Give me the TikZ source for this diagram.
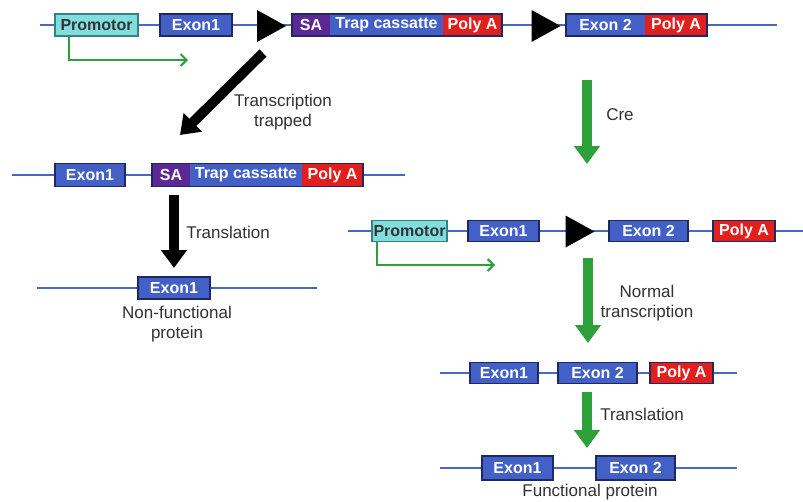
\documentclass[tikz,border=0pt]{standalone}
\usepackage{fontspec}
\setmainfont{Liberation Sans}
\usetikzlibrary{arrows.meta}

\definecolor{dnaline}{RGB}{72,104,200}
\definecolor{exonblue}{RGB}{66,96,198}
\definecolor{boxedge}{RGB}{30,40,100}
\definecolor{sapurple}{RGB}{92,40,150}
\definecolor{polyred}{RGB}{225,32,30}
\definecolor{promcyan}{RGB}{128,222,222}
\definecolor{promedge}{RGB}{50,130,130}
\definecolor{arrowgreen}{RGB}{46,160,58}
\definecolor{labelgrey}{RGB}{50,50,50}

\tikzset{
  part/.style={inner sep=0pt, minimum height=22pt, text=white, font=\fontsize{16}{18}\selectfont\bfseries},
  exon/.style={part, fill=exonblue, draw=boxedge, line width=1.5pt},
  trap/.style={part, fill=exonblue},
  sa/.style={part, fill=sapurple},
  polya/.style={part, fill=polyred},
  promotor/.style={part, fill=promcyan, draw=promedge, line width=1.2pt, text=black!80},
  dna/.style={dnaline, line width=2.6pt},
  outline/.style={boxedge, line width=1.5pt},
  tss/.style={arrowgreen, line width=2pt, -{Straight Barb[length=6pt,width=12pt]}},
  block/.style={line width=10pt, -{Triangle[width=25pt,length=18pt]}},
  caption/.style={text=labelgrey, align=center, font=\fontsize{17}{19.5}\selectfont},
}

% loxP site as a black triangle pointing right
\newcommand{\loxp}[1]{\fill (#1) ++(-14,-16) -- ++(29,16) -- ++(-29,16) -- cycle;}

\begin{document}
\begin{tikzpicture}[x=1pt, y=-1pt]
\useasboundingbox[fill=white] (0,0) rectangle (803,501);

% Gene trap allele
\draw[dna] (40,25) -- (777,25);
\node[promotor, minimum width=83pt] (prom1) at (96.5,25) {Promotor};
\node[exon, minimum width=72pt] (ex1a) at (196,25) {Exon1};
\coordinate (lox1) at (271,26);
\coordinate (lox2) at (545.5,26);
\loxp{lox1}
\loxp{lox2}
\node[sa, minimum width=38pt] (sa1) at (311,25) {SA};
\node[trap, minimum width=113pt] (cas1) at (386.5,25) {Trap cassatte};
\node[polya, minimum width=59pt] (pa1) at (472.5,25) {Poly A};
\draw[outline] (sa1.north west) rectangle (pa1.south east);
\node[trap, minimum width=79pt] (ex2a) at (605.5,25) {Exon 2};
\node[polya, minimum width=62pt] (pa2) at (676,25) {Poly A};
\draw[outline] (ex2a.north west) rectangle (pa2.south east);
\coordinate (tss1) at (188,60);
\draw[tss] ([xshift=15pt]prom1.south west) |- (tss1);

% Trapped transcript
\coordinate (trapfrom) at (263,53);
\coordinate (trapto) at (180,135);
\draw[block] (trapfrom) -- (trapto);
\node[caption] (traplabel) at (283,112) {Transcription\\trapped};

\draw[dna] (12,175) -- (405,175);
\node[exon, minimum width=70pt, minimum height=23pt] (ex1b) at (90,175) {Exon1};
\node[sa, minimum width=38pt, minimum height=23pt] (sa2) at (171,175) {SA};
\node[trap, minimum width=112pt, minimum height=23pt] (cas2) at (246,175) {Trap cassatte};
\node[polya, minimum width=61pt, minimum height=23pt] (pa3) at (332.5,175) {Poly A};
\draw[outline] (sa2.north west) rectangle (pa3.south east);

\coordinate (tl1from) at (174,195);
\coordinate (tl1to) at (174,268);
\draw[block] (tl1from) -- (tl1to);
\node[caption] (tl1label) at (228,232) {Translation};

\draw[dna] (37,288) -- (317,288);
\node[exon, minimum width=72pt] (ex1c) at (174,288) {Exon1};
\node[caption] (nfprot) at (177,324) {Non-functional\\protein};

% Cre excision
\coordinate (crefrom) at (587,80);
\coordinate (creto) at (587,164);
\draw[block, arrowgreen] (crefrom) -- (creto);
\node[caption] (crelabel) at (620,115) {Cre};

\draw[dna] (348,231) -- (803,231);
\node[promotor, minimum width=75pt, minimum height=21pt] (prom2) at (409.5,231) {Promotor};
\node[exon, minimum width=71pt, minimum height=21pt] (ex1d) at (503.5,231) {Exon1};
\coordinate (lox3) at (579.5,231.5);
\loxp{lox3}
\node[exon, minimum width=79pt, minimum height=21pt] (ex2b) at (648.5,231) {Exon 2};
\node[polya, draw=boxedge, line width=1.5pt, minimum width=62pt, minimum height=21pt] (pa4) at (744,231) {Poly A};
\coordinate (tss2) at (495,265);
\draw[tss] ([xshift=6pt]prom2.south west) |- (tss2);

% Normal transcript and protein
\coordinate (ntfrom) at (588,258);
\coordinate (ntto) at (588,343);
\draw[block, arrowgreen] (ntfrom) -- (ntto);
\node[caption] (ntlabel) at (647,303) {Normal\\transcription};

\draw[dna] (440,373) -- (737,373);
\node[exon, minimum width=68pt, minimum height=21pt] (ex1e) at (504,373) {Exon1};
\node[exon, minimum width=79pt, minimum height=21pt] (ex2c) at (597.5,373) {Exon 2};
\node[polya, draw=boxedge, line width=1.5pt, minimum width=63pt, minimum height=21pt] (pa5) at (681.5,373) {Poly A};

\coordinate (tl2from) at (587,392);
\coordinate (tl2to) at (587,448);
\draw[block, arrowgreen] (tl2from) -- (tl2to);
\node[caption] (tl2label) at (642,414) {Translation};

\draw[dna] (440,468) -- (737,468);
\node[exon, minimum width=71pt, minimum height=24pt] (ex1f) at (517.5,468) {Exon1};
\node[exon, minimum width=79pt, minimum height=24pt] (ex2d) at (635.5,468) {Exon 2};
\node[caption] (fprot) at (590,492) {Functional protein};

\end{tikzpicture}
\end{document}
